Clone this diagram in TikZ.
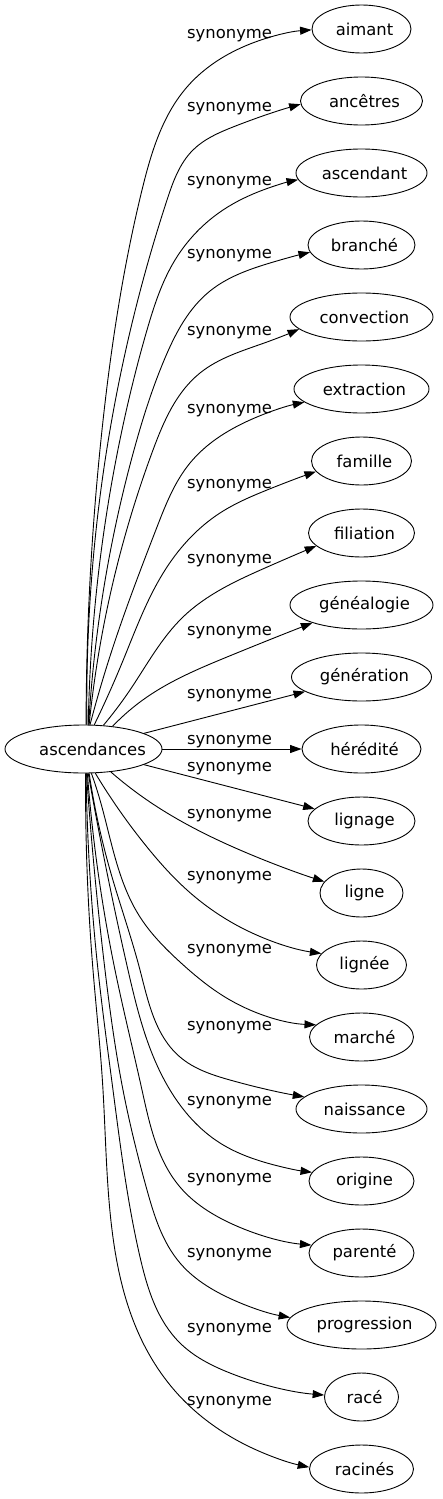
\documentclass[tikz,border=0pt]{standalone}
\usepackage{fontspec}
\setmainfont{DejaVu Sans}
\usetikzlibrary{shapes.geometric,arrows.meta,hobby}
\begin{document}
\begin{tikzpicture}[x=1pt,y=-1pt,
  every node/.style={font=\fontsize{16.4}{19}\selectfont},
  ell/.style={ellipse,draw,line width=0.9pt,minimum height=48pt,inner sep=0pt,minimum width=#1},
  tgt/.style={ell=#1,execute at begin node={\hspace*{3pt}},execute at end node={\hspace*{-3pt}}},
  lbl/.style={anchor=base west,inner sep=0pt},
  syn/.style={draw,line width=0.9pt,-{Triangle[length=11.5pt,width=8pt]}}]
\useasboundingbox (0,0) rectangle (442,1499);
% nodes
\node[ell=157pt] (c) at (83.5,749) {\hspace*{9pt}ascendances\hspace*{-9pt}};
\node[tgt=99pt]  (n1)  at (361.5,29)   {aimant};
\node[tgt=122pt] (n2)  at (361.5,101)  {ancêtres};
\node[tgt=131pt] (n3)  at (361.5,173)  {ascendant};
\node[tgt=107pt] (n4)  at (361.5,245)  {branché};
\node[tgt=143pt] (n5)  at (361.5,317)  {convection};
\node[tgt=135pt] (n6)  at (361.5,389)  {extraction};
\node[tgt=100pt] (n7)  at (361.5,461)  {famille};
\node[tgt=106pt] (n8)  at (361.5,533)  {filiation};
\node[tgt=143pt] (n9)  at (361.5,605)  {généalogie};
\node[tgt=140pt] (n10) at (361.5,677)  {génération};
\node[tgt=119pt] (n11) at (361.5,749)  {hérédité};
\node[tgt=107pt] (n12) at (361.5,821)  {lignage};
\node[tgt=83pt]  (n13) at (361.5,893)  {ligne};
\node[tgt=90pt]  (n14) at (361.5,965)  {lignée};
\node[tgt=104pt] (n15) at (361.5,1037) {marché};
\node[tgt=131pt] (n16) at (361.5,1109) {naissance};
\node[tgt=105pt] (n17) at (361.5,1181) {origine};
\node[tgt=105pt] (n18) at (361.5,1253) {parenté};
\node[tgt=149pt] (n19) at (361.5,1325) {progression};
\node[tgt=74pt]  (n20) at (361.5,1397) {racé};
\node[tgt=104pt] (n21) at (361.5,1469) {racinés};
% labels
\node[lbl] (l1)  at (187,38)   {synonyme};
\node[lbl] (l2)  at (187,111)  {synonyme};
\node[lbl] (l3)  at (187,185)  {synonyme};
\node[lbl] (l4)  at (187,258)  {synonyme};
\node[lbl] (l5)  at (187,335)  {synonyme};
\node[lbl] (l6)  at (187,413)  {synonyme};
\node[lbl] (l7)  at (187,488)  {synonyme};
\node[lbl] (l8)  at (187,563)  {synonyme};
\node[lbl] (l9)  at (187,635)  {synonyme};
\node[lbl] (l10) at (187,698)  {synonyme};
\node[lbl] (l11) at (187,744)  {synonyme};
\node[lbl] (l12) at (187,771)  {synonyme};
\node[lbl] (l13) at (187,818)  {synonyme};
\node[lbl] (l14) at (187,880)  {synonyme};
\node[lbl] (l15) at (187,953)  {synonyme};
\node[lbl] (l16) at (187,1030) {synonyme};
\node[lbl] (l17) at (187,1105) {synonyme};
\node[lbl] (l18) at (187,1182) {synonyme};
\node[lbl] (l19) at (187,1257) {synonyme};
\node[lbl] (l20) at (187,1332) {synonyme};
\node[lbl] (l21) at (187,1405) {synonyme};
% edges
\draw[syn] (c.84) to[curve through={(102,430) .. (142,190) .. (187,87) .. (250,44)}] (n1.181);
\draw[syn] (c.82) to[curve through={(110,430) .. (167,200) .. (193,150) .. (233,127)}] (n2.183);
\draw[syn] (c.79) to[curve through={(122,430) .. (147,330) .. (175,260) .. (223,210) .. (263,190)}] (n3.186);
\draw[syn] (c.78) to[curve through={(134,450) .. (165,358) .. (210,291) .. (270,263)}] (n4.188);
\draw[syn] (c.77) to[curve through={(153,450) .. (200,373) .. (267,342)}] (n5.191);
\draw[syn] (c.75) to[curve through={(113,647) .. (157,527) .. (190,463) .. (250,420)}] (n6.193);
\draw[syn] (c.66) to[curve through={(122,663) .. (167,567) .. (220,513) .. (267,490)}] (n7.193);
\draw[syn] (c.50) to[curve through={(130,690) .. (183,617) .. (265,568)}] (n8.196);
\draw[syn] (c.38) to[curve through={(147,697) .. (227,657)}] (n9.200);
\draw[syn] (c) -- (n10);
\draw[syn] (c) -- (n11);
\draw[syn] (c) -- (n12);
\draw[syn] (c.-40) to[curve through={(147,800) .. (247,853)}] (n13.163);
\draw[syn] (c.-64) to[curve through={(147,847) .. (187,890) .. (240,927)}] (n14.164);
\draw[syn] (c.-72) to[curve through={(100,800) .. (140,917) .. (180,962) .. (230,1000)}] (n15.165);
\draw[syn] (c.-77) to[curve through={(110,870) .. (140,970) .. (180,1057) .. (230,1080)}] (n16.168);
\draw[syn] (c.-79) to[curve through={(128,970) .. (170,1090) .. (220,1143) .. (267,1163)}] (n17.170);
\draw[syn] (c.-81) to[curve through={(115,970) .. (142,1090) .. (180,1187) .. (230,1223)}] (n18.171);
\draw[syn] (c.-83) to[curve through={(105,970) .. (123,1090) .. (147,1190) .. (180,1263) .. (227,1297)}] (n19.174);
\draw[syn] (c.-84) to[curve through={(98,970) .. (113,1090) .. (140,1257) .. (180,1343) .. (230,1373)}] (n20.177);
\draw[syn] (c.-85) to[curve through={(93,970) .. (103,1090) .. (170,1385) .. (250,1447)}] (n21.178);
\end{tikzpicture}
\end{document}
